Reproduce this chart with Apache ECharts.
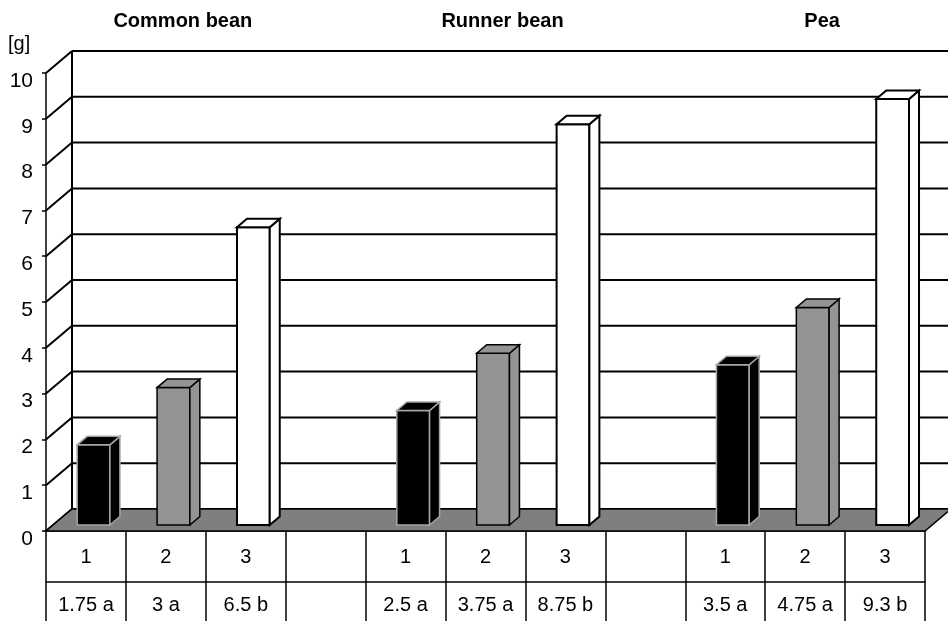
<!DOCTYPE html>
<html><head><meta charset="utf-8">
<script src="https://cdn.jsdelivr.net/npm/echarts@6/dist/echarts.min.js"></script>
<style>html,body{margin:0;padding:0;background:#fff}#c{width:948px;height:621px}</style>
</head><body><div id="c"></div>
<script>
const groups = ['Common bean', 'Runner bean', 'Pea'];
const treatments = ['1', '2', '3'];
const commonBean = [1.75, 3, 6.5];
const runnerBean = [2.5, 3.75, 8.75];
const pea = [3.5, 4.75, 9.3];
const commonBeanLetters = ['a', 'a', 'b'];
const runnerBeanLetters = ['a', 'a', 'b'];
const peaLetters = ['a', 'a', 'b'];
const yTicks = [0, 1, 2, 3, 4, 5, 6, 7, 8, 9, 10];
const unitLabel = '[g]';

const groupValues = [commonBean, runnerBean, pea];
const groupLetters = [commonBeanLetters, runnerBeanLetters, peaLetters];
const treatColors = [
  { fill: '#000000', stroke: '#a6a6a6', width: 1.5 },
  { fill: '#949494', stroke: '#000000', width: 1.5 },
  { fill: '#ffffff', stroke: '#000000', width: 2 }
];
const FONT = '"Liberation Sans", Arial, sans-serif';
const DX = 26, DY = 22;
const yMax = yTicks[yTicks.length - 1];

const cats = [], row2 = [], bars = [], titleIdx = [];
groups.forEach((g, gi) => {
  treatments.forEach((t, ti) => {
    const v = groupValues[gi][ti];
    bars.push([cats.length, v, ti]);
    if (ti === 1) titleIdx.push([cats.length, gi]);
    cats.push(t);
    row2.push(v + ' ' + groupLetters[gi][ti]);
  });
  if (gi < groups.length - 1) { cats.push(' '); row2.push(' '); }
});

const chart = echarts.init(document.getElementById('c'), null, { renderer: 'canvas' });
const lineStyle = { color: '#000', width: 1.5 };
chart.setOption({
  animation: false,
  backgroundColor: '#fff',
  grid: { left: 46, right: 23, top: 73, bottom: 90, containLabel: false },
  graphic: [{
    type: 'text', left: 8, top: 34,
    style: { text: unitLabel, font: '20px ' + FONT, fill: '#000' }
  }],
  xAxis: [{
    type: 'category', data: cats, position: 'bottom', boundaryGap: true,
    axisLine: { show: true, lineStyle: lineStyle },
    axisTick: { show: true, interval: 0, length: 90, lineStyle: lineStyle },
    axisLabel: { interval: 0, margin: 16, fontSize: 20, color: '#000', fontFamily: FONT },
    splitLine: { show: false }
  }, {
    type: 'category', data: row2, position: 'bottom', offset: 51, boundaryGap: true,
    axisLine: { show: true, lineStyle: lineStyle },
    axisTick: { show: false },
    axisLabel: { interval: 0, margin: 13, fontSize: 20, color: '#000', fontFamily: FONT },
    splitLine: { show: false }
  }],
  yAxis: {
    type: 'value', min: 0, max: yMax, interval: 1,
    axisLine: { show: true, lineStyle: lineStyle },
    axisTick: { show: true, length: 4, lineStyle: lineStyle },
    axisLabel: { fontSize: 21, margin: 13, color: '#000', fontFamily: FONT, verticalAlign: 'top', lineHeight: 16 },
    splitLine: { show: false }
  },
  series: [{
    type: 'custom', name: 'wall', z: 1, clip: false, silent: true,
    xAxisIndex: 0, encode: { x: 0, y: 1 },
    data: yTicks.map(v => [0, v]),
    renderItem: function (params, api) {
      const cs = params.coordSys;
      const v = api.value(1);
      const y = api.coord([0, v])[1];
      const x0 = cs.x;
      const st = { stroke: '#000', lineWidth: 2 };
      const children = [
        { type: 'line', shape: { x1: x0, y1: y, x2: x0 + DX, y2: y - DY }, style: st },
        { type: 'line', shape: { x1: x0 + DX, y1: y - DY, x2: api.getWidth(), y2: y - DY }, style: st }
      ];
      if (v === yMax) {
        children.push({ type: 'line', shape: { x1: x0 + DX, y1: y - DY, x2: x0 + DX, y2: cs.y + cs.height - DY }, style: st });
      }
      return { type: 'group', children: children };
    }
  }, {
    type: 'custom', name: 'floor', z: 2, clip: false, silent: true,
    xAxisIndex: 0, encode: { x: 0, y: 1 },
    data: [[0, 0]],
    renderItem: function (params, api) {
      const cs = params.coordSys;
      const yb = api.coord([0, 0])[1];
      const xl = cs.x, xr = cs.x + cs.width;
      return {
        type: 'polygon',
        shape: { points: [[xl, yb], [xr, yb], [xr + DX, yb - DY], [xl + DX, yb - DY]] },
        style: { fill: '#7f7f7f', stroke: '#000', lineWidth: 1.5 }
      };
    }
  }, {
    type: 'custom', name: 'bars', z: 3, clip: false,
    xAxisIndex: 0, encode: { x: 0, y: 1 },
    data: bars,
    renderItem: function (params, api) {
      const idx = api.value(0), v = api.value(1), ti = api.value(2);
      const base = api.coord([idx, 0]), topP = api.coord([idx, v]);
      const band = api.size([1, 0])[0];
      const w = band * 0.41;
      const left = base[0] - band * 0.11;
      const right = left + w;
      const bottom = base[1] - 6, t = topP[1] - 6;
      const bdx = 10, bdy = 8.5;
      const c = treatColors[ti];
      const style = { fill: c.fill, stroke: c.stroke, lineWidth: c.width, lineJoin: 'miter' };
      return {
        type: 'group', children: [
          { type: 'polygon', shape: { points: [[left, bottom], [right, bottom], [right, t], [left, t]] }, style: style },
          { type: 'polygon', shape: { points: [[right, bottom], [right + bdx, bottom - bdy], [right + bdx, t - bdy], [right, t]] }, style: style },
          { type: 'polygon', shape: { points: [[left, t], [right, t], [right + bdx, t - bdy], [left + bdx, t - bdy]] }, style: style }
        ]
      };
    }
  }, {
    type: 'custom', name: 'titles', z: 4, clip: false, silent: true,
    xAxisIndex: 0, encode: { x: 0 },
    data: titleIdx,
    renderItem: function (params, api) {
      const idx = api.value(0), gi = api.value(1);
      const p = api.coord([idx, yMax]);
      return {
        type: 'text',
        style: { text: groups[gi], x: p[0] + 17, y: 21, font: 'bold 20px ' + FONT, fill: '#000', align: 'center', verticalAlign: 'middle' }
      };
    }
  }]
});
</script>
</body></html>
